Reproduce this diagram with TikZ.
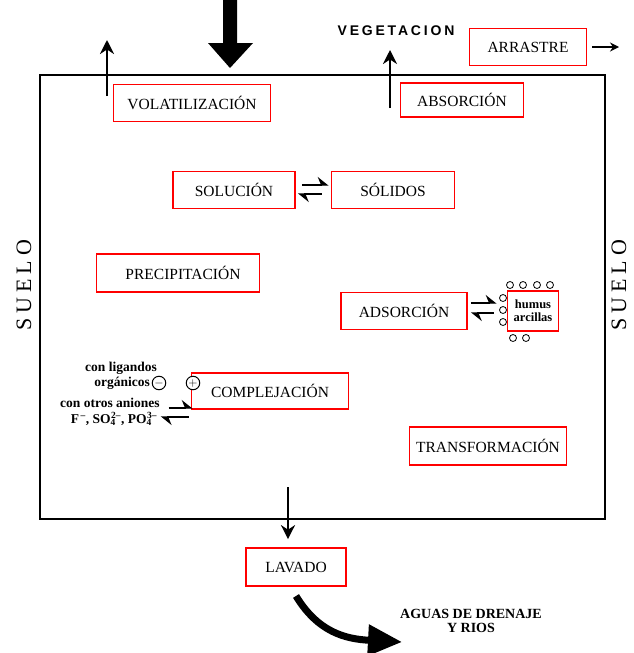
\documentclass[tikz,border=0pt]{standalone}
\usepackage{fontspec}
\setmainfont{Liberation Serif}
\setsansfont{Liberation Sans}
\usetikzlibrary{arrows.meta}

\begin{document}
\begin{tikzpicture}[x=1pt, y=-1pt,
  proc/.style={draw=red, line width=1.7pt, minimum height=37pt, inner sep=0pt, font=\fontsize{15.5}{17}\selectfont},
  note/.style={inner sep=0pt, font=\bfseries\fontsize{13.5}{14}\selectfont},
  flow/.style={line width=2.2pt, -{Stealth[length=14pt, width=14pt]}},
  eq/.style={line width=1.4pt, -{Stealth[harpoon, length=10pt, width=16pt]}},
  site/.style={circle, draw, line width=0.8pt, inner sep=0pt, minimum size=7pt},
  charge/.style={circle, draw, fill=white, line width=1pt, inner sep=0pt, minimum size=13.5pt, font=\fontsize{12}{12}\selectfont}]
\useasboundingbox (0,0) rectangle (633,653);

% soil
\draw[line width=2.4pt] (40,75) rectangle (605,519);
\node[rotate=90, font=\fontsize{22}{24}\selectfont\addfontfeatures{LetterSpace=22}] (soilL) at (24,285) {SUELO};
\node[rotate=90, font=\fontsize{22}{24}\selectfont\addfontfeatures{LetterSpace=22}] (soilR) at (619,285) {SUELO};

% rain
\fill (223,0) -- (237,0) -- (237,43) -- (253,43) -- (230,68) -- (208,43) -- (223,43) -- cycle;

\node[font=\sffamily\bfseries\fontsize{14}{16}\selectfont\addfontfeatures{LetterSpace=20}] (veg) at (396,31) {VEGETACION};

\node[proc, minimum width=157pt] (volat) at (192,103) {VOLATILIZACIÓN};
\node[proc, minimum width=123pt, minimum height=34pt] (absor) at (462,100) {ABSORCIÓN};
\node[proc, minimum width=117pt] (arras) at (528,47) {ARRASTRE};
\node[proc, minimum width=122pt] (soluc) at (234,190) {SOLUCIÓN};
\node[proc, minimum width=123pt] (solid) at (393,190) {SÓLIDOS};
\node[proc, minimum width=163pt, minimum height=38pt] (precip) at (178,273) {\hspace*{10pt}PRECIPITACIÓN};
\node[proc, minimum width=126pt] (adsor) at (404,311) {ADSORCIÓN};
\node[proc, minimum width=157pt, minimum height=36pt] (compl) at (270,391) {COMPLEJACIÓN};
\node[proc, minimum width=157pt, minimum height=38pt] (trans) at (488,446) {TRANSFORMACIÓN};
\node[proc, minimum width=100pt, minimum height=38pt] (lavado) at (296,567) {LAVADO};
\node[draw=red, line width=1.7pt, minimum width=51pt, minimum height=40pt, inner sep=0pt, align=center,
  font=\bfseries\fontsize{12.5}{13}\selectfont] (humus) at (533,311) {humus\\arcillas};

% exchange sites
\foreach \x in {510,523,537,550} \node[site] (top\x) at (\x,285) {};
\foreach \y in {298,310,322} \node[site] (left\y) at (503,\y) {};
\foreach \x in {513,526} \node[site] (bot\x) at (\x,338) {};

% losses and uptake
\coordinate (volfoot) at (107,96);
\coordinate (voltop) at (107,40);
\draw[flow] (volfoot) -- (voltop);
\coordinate (absfoot) at (390,108);
\coordinate (abstop) at (390,50);
\draw[flow] (absfoot) -- (abstop);
\coordinate (runoff) at (619,47);
\draw[line width=1.4pt, -{Stealth[length=9pt, width=9pt]}] ([xshift=5pt]arras.east) -- (runoff);

% equilibria
\draw[eq] ([xshift=6pt, yshift=5pt]soluc.east) -- ([xshift=-2pt, yshift=5pt]solid.west);
\draw[eq] ([xshift=-9pt, yshift=-4pt]solid.west) -- ([xshift=2pt, yshift=-4pt]soluc.east);
\draw[eq] ([xshift=3pt, yshift=8pt]adsor.east) -- ([xshift=-10pt, yshift=8pt]humus.west);
\draw[eq] ([xshift=-13pt, yshift=-2pt]humus.west) -- ([xshift=3pt, yshift=-2pt]adsor.east);

% complexation
\node[note] (lig) at (121,368) {con ligandos};
\node[note, anchor=east] (org) at (150,383) {orgánicos};
\node[charge] (neg) at (159,383) {$-$};
\node[charge] (pos) at (193,383) {$+$};
\node[note] (anion) at (110,403) {con otros aniones};
\node[note] (ions) at (114,419) {F\textsuperscript{\,–}, SO\textsubscript{\rlap{4}}\textsuperscript{2–}, PO\textsubscript{\rlap{4}}\textsuperscript{3–}};
\draw[eq] ([xshift=-22pt, yshift=-17pt]compl.west) -- ([xshift=2pt, yshift=-17pt]compl.west);
\draw[eq] ([xshift=-2pt, yshift=-26pt]compl.west) -- ([xshift=-30pt, yshift=-26pt]compl.west);

% leaching
\coordinate (washtop) at (288,487);
\draw[flow] (washtop) -- ([xshift=-8pt, yshift=8pt]lavado.north);
\coordinate (drainstart) at (296,596);
\coordinate (draintip) at (402,642);
\draw[line width=7pt, -{Triangle[length=34pt, width=30pt]}] (drainstart) .. controls (318,632) and (345,639) .. (draintip);
\node[note, align=center, font=\bfseries\fontsize{14}{14}\selectfont] (drain) at (471,621) {AGUAS DE DRENAJE\\Y RIOS};
\end{tikzpicture}
\end{document}
